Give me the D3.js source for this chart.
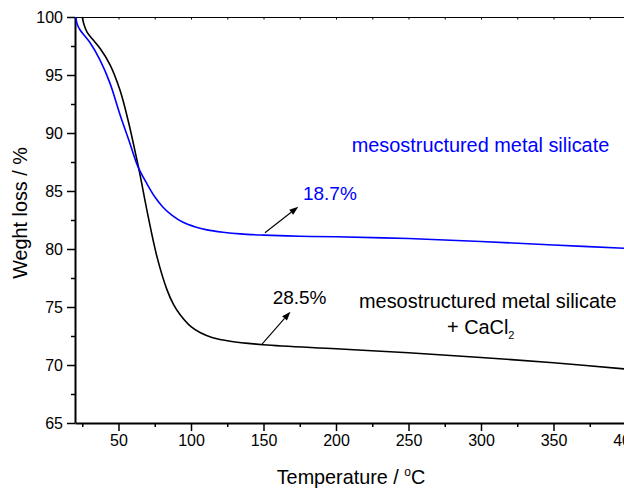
<!DOCTYPE html>
<html>
<head>
<meta charset="utf-8">
<script src="https://cdn.jsdelivr.net/npm/d3@7"></script>
<style>
  body { margin: 0; background: #fff; }
  svg { display: block; font-family: "Liberation Sans", Arial, sans-serif; }
  .axis path, .axis line { stroke: #000; }
  .axis text { font-size: 16px; fill: #000; font-family: "Liberation Sans", Arial, sans-serif; }
</style>
</head>
<body>
<div id="chart"></div>
<script>
// data
var blueTemp = [20.5, 21.5, 23.4, 26.5, 30.3, 37.2, 44.1, 51, 57.9, 63.4, 69.7, 75, 80.7, 87, 94.5, 103, 111, 122, 134, 150, 175, 200, 250, 300, 350, 400];
var blueWeight = [100, 99.4, 98.9, 98.4, 97.8, 96.3, 94.3, 91.6, 89.1, 87.1, 85.6, 84.5, 83.6, 82.9, 82.3, 81.9, 81.65, 81.45, 81.3, 81.2, 81.1, 81.05, 80.9, 80.65, 80.35, 80.05];

var blackTemp = [25, 26.3, 28.3, 32, 37.2, 44.1, 51, 56.6, 62.5, 65, 70.3, 76.6, 83.4, 88, 92.4, 100, 106.2, 115, 127, 150, 200, 250, 300, 350, 400];
var blackWeight = [100, 99.3, 98.7, 98.1, 97.3, 95.9, 93.7, 91.1, 87.8, 86.3, 82.9, 79.3, 76.5, 75.2, 74.35, 73.3, 72.8, 72.35, 72.05, 71.75, 71.4, 71.05, 70.65, 70.2, 69.65];

var xTicks = [50, 100, 150, 200, 250, 300, 350, 400];
var xMinor = [25, 75, 125, 175, 225, 275, 325, 375];
var yTicks = [65, 70, 75, 80, 85, 90, 95, 100];
var yMinor = [67.5, 72.5, 77.5, 82.5, 87.5, 92.5, 97.5];

// arrows: [tailTemp, tailWeight, headTemp, headWeight]
var blueArrow = [151, 81.4, 174, 83.65];
var blackArrow = [149, 71.8, 168.6, 74.6];

var w = 624, h = 488;

var xScale = d3.scaleLinear().domain([20, 400]).range([75, 626]);
var yScale = d3.scaleLinear().domain([65, 100]).range([423, 17]);

var svg = d3.select("#chart").append("svg")
  .attr("width", w)
  .attr("height", h);

// top frame with tiny inward ticks
svg.append("g")
  .attr("class", "axis")
  .attr("transform", "translate(0,17)")
  .call(d3.axisTop(xScale).tickValues(xTicks.concat(xMinor)).tickSize(-2.5).tickFormat(""))
  .call(function(g){ g.select(".domain").attr("stroke-width", 1.2); });

// minor ticks
svg.append("g")
  .attr("class", "axis")
  .attr("transform", "translate(0,423)")
  .call(d3.axisBottom(xScale).tickValues(xMinor).tickSize(4).tickFormat(""))
  .call(function(g){ g.select(".domain").remove(); g.selectAll("line").attr("stroke-width", 1.5); });

svg.append("g")
  .attr("class", "axis")
  .attr("transform", "translate(75,0)")
  .call(d3.axisLeft(yScale).tickValues(yMinor).tickSize(4).tickFormat(""))
  .call(function(g){ g.select(".domain").remove(); g.selectAll("line").attr("stroke-width", 1.5); });

// X axis
svg.append("g")
  .attr("class", "axis")
  .attr("transform", "translate(0,423)")
  .call(d3.axisBottom(xScale).tickValues(xTicks).tickSize(8).tickSizeOuter(0).tickPadding(4))
  .call(function(g){
    g.select(".domain").attr("stroke-width", 2);
    g.selectAll("line").attr("stroke-width", 1.5);
  });

// Y axis
svg.append("g")
  .attr("class", "axis")
  .attr("transform", "translate(75,0)")
  .call(d3.axisLeft(yScale).tickValues(yTicks).tickSize(8).tickSizeOuter(0).tickPadding(4))
  .call(function(g){
    g.select(".domain").attr("stroke-width", 2);
    g.selectAll("line").attr("stroke-width", 1.5);
    g.selectAll("text").attr("dy", "0.36em");
  });

// curves
var line = d3.line()
  .x(function(d){ return xScale(d[0]); })
  .y(function(d){ return yScale(d[1]); })
  .curve(d3.curveCatmullRom.alpha(0.5));

svg.append("path")
  .datum(d3.zip(blackTemp, blackWeight))
  .attr("fill", "none")
  .attr("stroke", "#000")
  .attr("stroke-width", 1.6)
  .attr("d", line);

svg.append("path")
  .datum(d3.zip(blueTemp, blueWeight))
  .attr("fill", "none")
  .attr("stroke", "#0000ff")
  .attr("stroke-width", 1.6)
  .attr("d", line);

// arrows
function drawArrow(a) {
  var x1 = xScale(a[0]), y1 = yScale(a[1]), x2 = xScale(a[2]), y2 = yScale(a[3]);
  var ang = Math.atan2(y2 - y1, x2 - x1);
  var len = 9, half = 3.2;
  var bx = x2 - len * Math.cos(ang), by = y2 - len * Math.sin(ang);
  svg.append("line")
    .attr("x1", x1).attr("y1", y1)
    .attr("x2", bx).attr("y2", by)
    .attr("stroke", "#000").attr("stroke-width", 1.1);
  svg.append("path")
    .attr("d", "M" + x2 + "," + y2 +
      "L" + (bx + half * Math.sin(ang)) + "," + (by - half * Math.cos(ang)) +
      "L" + (bx - half * Math.sin(ang)) + "," + (by + half * Math.cos(ang)) + "Z")
    .attr("fill", "#000");
}
drawArrow(blueArrow);
drawArrow(blackArrow);

// labels
svg.append("text")
  .attr("x", xScale(177.2)).attr("y", yScale(84.2))
  .attr("fill", "#0000ff").attr("font-size", "19px")
  .text("18.7%");

svg.append("text")
  .attr("x", xScale(156.3)).attr("y", yScale(75.3))
  .attr("fill", "#000").attr("font-size", "19px")
  .text("28.5%");

svg.append("text")
  .attr("x", xScale(210.8)).attr("y", yScale(88.4))
  .attr("fill", "#0000ff").attr("font-size", "19.9px")
  .text("mesostructured metal silicate");

svg.append("text")
  .attr("x", xScale(215.9)).attr("y", yScale(74.9))
  .attr("fill", "#000").attr("font-size", "19.9px")
  .text("mesostructured metal silicate");

var ca = svg.append("text")
  .attr("x", 447).attr("y", yScale(72.7))
  .attr("fill", "#000").attr("font-size", "19.9px");
ca.append("tspan").text("+ CaCl");
ca.append("tspan").attr("font-size", "11px").attr("dy", "5").text("2");

// axis titles
var xt = svg.append("text")
  .attr("x", 351).attr("y", 484)
  .attr("text-anchor", "middle")
  .attr("font-size", "19.8px")
  .attr("fill", "#000");
xt.append("tspan").text("Temperature / ");
xt.append("tspan").attr("font-size", "12px").attr("dy", "-8").text("o");
xt.append("tspan").attr("dy", "8").text("C");

svg.append("text")
  .attr("transform", "translate(27,213) rotate(-90)")
  .attr("text-anchor", "middle")
  .attr("font-size", "19.8px")
  .attr("fill", "#000")
  .text("Weght loss / %");
</script>
</body>
</html>
